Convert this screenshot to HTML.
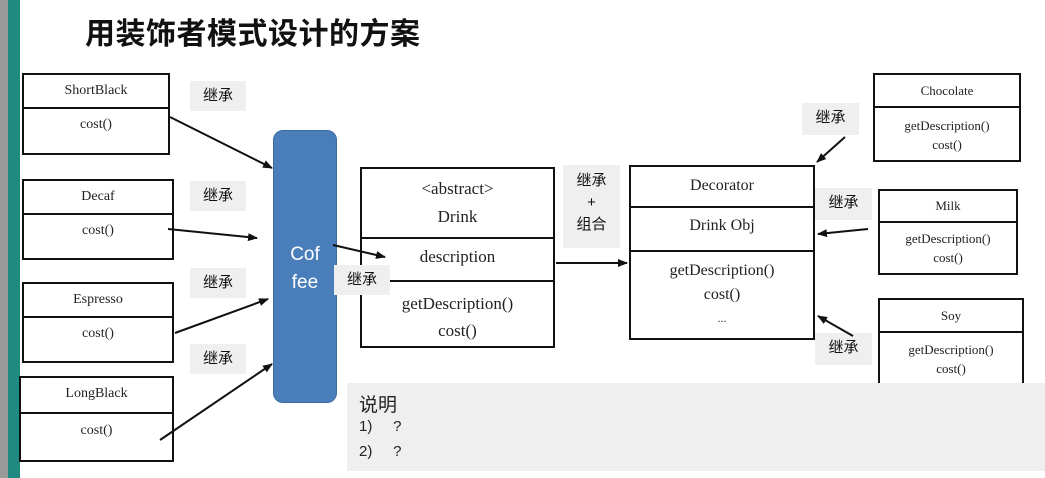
<!DOCTYPE html>
<html><head><meta charset="utf-8"><style>
body{margin:0;width:1045px;height:478px;background:#fff;position:relative;overflow:hidden;font-family:"Liberation Serif","Noto Serif CJK SC",serif;}
.a{position:absolute;box-sizing:border-box}
.box{border:2px solid #111;background:#fff}
.t{position:absolute;left:0;right:0;text-align:center;color:#222;font-size:14px}
.dv{position:absolute;left:0;right:0;border-top:2px solid #111}
.lb{position:absolute;background:#efefef;font-family:"Liberation Sans","Noto Sans CJK SC",sans-serif;font-size:15px;color:#111;text-align:center;line-height:30px}
</style></head><body>
<div class="a" style="left:0;top:0;width:8px;height:478px;background:#9a9a9a"></div>
<div class="a" style="left:8px;top:0;width:12px;height:478px;background:#1f8a80"></div>
<div class="a" style="left:85px;top:9px;font-family:'Liberation Sans','Noto Sans CJK SC',sans-serif;font-size:30px;font-weight:bold;color:#111;letter-spacing:0.5px">用装饰者模式设计的方案</div>

<div class="a box" style="left:22px;top:73px;width:148px;height:82px"><div class="t" style="top:8px">ShortBlack</div><div class="dv" style="top:32px"></div><div class="t" style="top:42px">cost()</div></div>
<div class="a box" style="left:22px;top:179px;width:152px;height:81px"><div class="t" style="top:8px">Decaf</div><div class="dv" style="top:32px"></div><div class="t" style="top:42px">cost()</div></div>
<div class="a box" style="left:22px;top:282px;width:152px;height:81px"><div class="t" style="top:8px">Espresso</div><div class="dv" style="top:32px"></div><div class="t" style="top:42px">cost()</div></div>
<div class="a box" style="left:19px;top:376px;width:155px;height:86px"><div class="t" style="top:8px">LongBlack</div><div class="dv" style="top:34px"></div><div class="t" style="top:45px">cost()</div></div>

<div class="a" style="left:273px;top:130px;width:64px;height:273px;background:#4a7ebb;border:1px solid #3b6aa3;border-radius:10px;color:#fff;font-family:'Liberation Sans',sans-serif;font-size:19px;text-align:center;padding-top:110px;line-height:28px">Cof<br>fee</div>

<div class="a box" style="left:360px;top:167px;width:195px;height:181px;font-size:17px"><div class="t" style="top:10px;font-size:17px">&lt;abstract&gt;</div><div class="t" style="top:38px;font-size:17px">Drink</div><div class="dv" style="top:68px"></div><div class="t" style="top:78px;font-size:17px">description</div><div class="dv" style="top:111px"></div><div class="t" style="top:125px;font-size:17px">getDescription()</div><div class="t" style="top:152px;font-size:17px">cost()</div></div>

<div class="a box" style="left:629px;top:165px;width:186px;height:175px"><div class="t" style="top:10px;font-size:16px">Decorator</div><div class="dv" style="top:39px"></div><div class="t" style="top:50px;font-size:16px">Drink Obj</div><div class="dv" style="top:83px"></div><div class="t" style="top:95px;font-size:16px">getDescription()</div><div class="t" style="top:119px;font-size:16px">cost()</div><div class="t" style="top:144px;font-size:12px">...</div></div>

<div class="a box" style="left:873px;top:73px;width:148px;height:89px"><div class="t" style="top:8px;font-size:13px">Chocolate</div><div class="dv" style="top:31px"></div><div class="t" style="top:43px;font-size:13px">getDescription()</div><div class="t" style="top:62px;font-size:13px">cost()</div></div>
<div class="a box" style="left:878px;top:189px;width:140px;height:86px"><div class="t" style="top:7px;font-size:13px">Milk</div><div class="dv" style="top:30px"></div><div class="t" style="top:40px;font-size:13px">getDescription()</div><div class="t" style="top:59px;font-size:13px">cost()</div></div>
<div class="a box" style="left:878px;top:298px;width:146px;height:100px"><div class="t" style="top:8px;font-size:13px">Soy</div><div class="dv" style="top:31px"></div><div class="t" style="top:42px;font-size:13px">getDescription()</div><div class="t" style="top:61px;font-size:13px">cost()</div></div>

<div class="a" style="left:347px;top:383px;width:698px;height:88px;background:#efefef;font-family:'Liberation Sans','Noto Sans CJK SC',sans-serif;color:#222">
<div style="position:absolute;left:12px;top:7px;font-size:19px">说明</div>
<div style="position:absolute;left:12px;top:35px;font-size:15px">1)&nbsp;&nbsp;&nbsp;&nbsp; ?</div>
<div style="position:absolute;left:12px;top:60px;font-size:15px">2)&nbsp;&nbsp;&nbsp;&nbsp; ?</div>
</div>

<div class="lb" style="left:190px;top:81px;width:56px;height:30px">继承</div>
<div class="lb" style="left:190px;top:181px;width:56px;height:30px">继承</div>
<div class="lb" style="left:190px;top:268px;width:56px;height:30px">继承</div>
<div class="lb" style="left:190px;top:344px;width:56px;height:30px">继承</div>
<div class="lb" style="left:334px;top:265px;width:56px;height:30px">继承</div>
<div class="lb" style="left:563px;top:165px;width:57px;height:78px;line-height:22px;padding-top:5px">继承<br>+<br>组合</div>
<div class="lb" style="left:802px;top:103px;width:57px;height:32px">继承</div>
<div class="lb" style="left:815px;top:188px;width:57px;height:32px">继承</div>
<div class="lb" style="left:815px;top:333px;width:57px;height:32px">继承</div>

<svg class="a" style="left:0;top:0" width="1045" height="478">
<defs><marker id="m" markerWidth="10" markerHeight="8" refX="9" refY="4" orient="auto" markerUnits="userSpaceOnUse"><path d="M0,0 L10,4 L0,8 z" fill="#111"/></marker></defs>
<g stroke="#111" stroke-width="2" marker-end="url(#m)">
<line x1="170" y1="117" x2="272" y2="168"/>
<line x1="168" y1="229" x2="257" y2="238"/>
<line x1="175" y1="333" x2="268" y2="299"/>
<line x1="160" y1="440" x2="272" y2="364"/>
<line x1="333" y1="245" x2="385" y2="257"/>
<line x1="556" y1="263" x2="627" y2="263"/>
<line x1="845" y1="137" x2="817" y2="162"/>
<line x1="868" y1="229" x2="818" y2="234"/>
<line x1="853" y1="336" x2="818" y2="316"/>
</g></svg>
</body></html>
